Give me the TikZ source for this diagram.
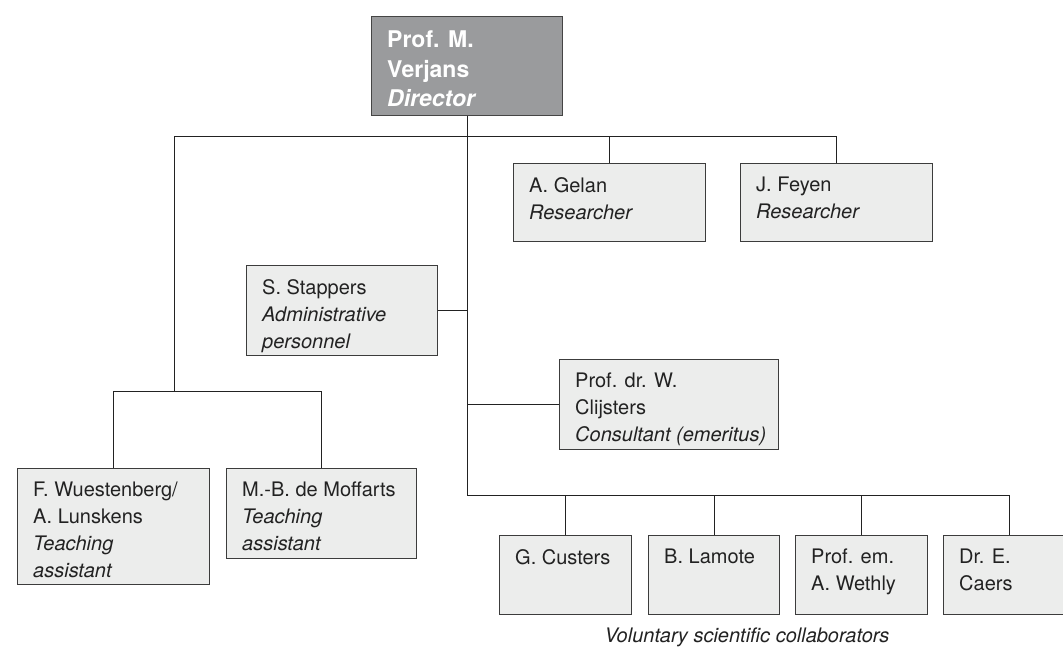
\documentclass[tikz,border=0pt]{standalone}
\usepackage{fontspec}
\setmainfont{TeX Gyre Heros}
\definecolor{unitfill}{HTML}{ECEDEC}
\definecolor{unitline}{HTML}{3C3C3C}
\definecolor{headfill}{HTML}{9A9B9D}
\definecolor{headline}{HTML}{454545}
\definecolor{inkgray}{HTML}{222222}

\begin{document}
\begin{tikzpicture}[x=1pt, y=-1pt,
		unit/.style={draw=unitline, fill=unitfill, line width=0.9pt, anchor=north west, inner sep=0pt},
		head/.style={draw=headline, fill=headfill, line width=0.9pt, anchor=north west, inner sep=0pt},
		txt/.style={anchor=north west, align=left, inner xsep=16pt, inner ysep=14pt, text=inkgray,
			font=\fontsize{20}{27}\selectfont},
		headtxt/.style={anchor=north west, align=left, inner xsep=16pt, inner ysep=15pt, text=white,
			font=\fontsize{23}{29.5}\selectfont\bfseries},
		link/.style={draw=inkgray, line width=0.9pt}]
	\useasboundingbox (0,0) rectangle (1063,646);

	% Director
	\node[head, minimum width=191, minimum height=99] (director) at (371,16) {};
	\node[headtxt] (director-t) at (director.north west) {Prof. M.\\Verjans\\\itshape Director};

	% Researchers
	\node[unit, minimum width=192, minimum height=78] (gelan) at (513,163) {};
	\node[txt] (gelan-t) at (gelan.north west) {A. Gelan\\\itshape Researcher};
	\node[unit, minimum width=192, minimum height=78] (feyen) at (740,163) {};
	\node[txt] (feyen-t) at (feyen.north west) {J. Feyen\\\itshape Researcher};

	% Staff
	\node[unit, minimum width=191, minimum height=90] (stappers) at (246,265) {};
	\node[txt] (stappers-t) at (stappers.north west) {S. Stappers\\\itshape Administrative\\\itshape personnel};
	\node[unit, minimum width=219, minimum height=90] (clijsters) at (559,359) {};
	\node[txt] (clijsters-t) at (clijsters.north west) {Prof. dr. W.\\Clijsters\\\itshape Consultant (emeritus)};

	% Teaching assistants
	\node[unit, minimum width=192, minimum height=116] (wuest) at (17,468) {};
	\node[txt] (wuest-t) at (wuest.north west) {F. Wuestenberg/\\A. Lunskens\\\itshape Teaching\\\itshape assistant};
	\node[unit, minimum width=190, minimum height=90] (moff) at (226,468) {};
	\node[txt] (moff-t) at (moff.north west) {M.-B. de Moffarts\\\itshape Teaching\\\itshape assistant};

	% Voluntary collaborators
	\node[unit, minimum width=132, minimum height=79] (custers) at (499,535) {};
	\node[txt] (custers-t) at (custers.north west) {G. Custers};
	\node[unit, minimum width=131, minimum height=79] (lamote) at (648,535) {};
	\node[txt] (lamote-t) at (lamote.north west) {B. Lamote};
	\node[unit, minimum width=132, minimum height=79] (wethly) at (795,535) {};
	\node[txt] (wethly-t) at (wethly.north west) {Prof. em.\\A. Wethly};
	\node[unit, minimum width=131, minimum height=79] (caers) at (943,535) {};
	\node[txt] (caers-t) at (caers.north west) {Dr. E.\\Caers};
	\node[anchor=base, text=inkgray, font=\fontsize{20}{27}\selectfont\itshape] (caption) at (747,642)
		{Voluntary scientific collaborators};

	% Lines
	\coordinate (bar) at (174,136);
	\coordinate (split) at (174,391);
	\coordinate (hub) at (467,495);
	\draw[link] (feyen.north) |- (bar) -- (split);
	\draw[link] (gelan.north) -- (gelan.north |- bar);
	\draw[link] (wuest.north) |- (moff.north |- split) -- (moff.north);
	\draw[link] (director.south) -- (director.south |- hub) -| (caers.north);
	\draw[link] (stappers.east) -- (stappers.east -| director.south);
	\draw[link] (clijsters.west) -- (clijsters.west -| director.south);
	\foreach \n in {custers, lamote, wethly}
		\draw[link] (\n.north) -- (\n.north |- hub);
\end{tikzpicture}
\end{document}
